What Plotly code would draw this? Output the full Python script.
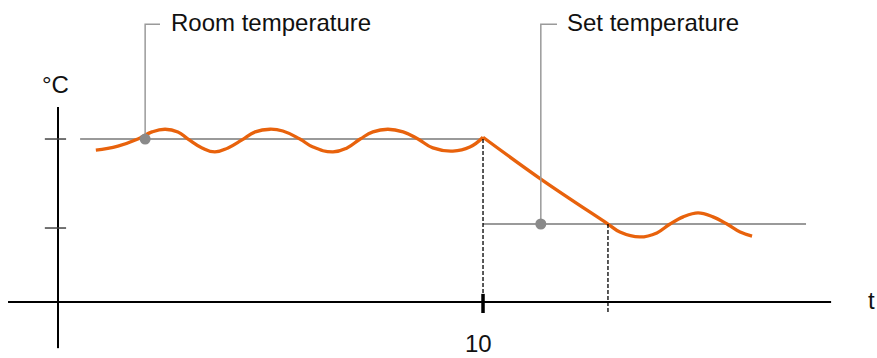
import plotly.graph_objects as go

# --- data (t in time units, T in degC-like units) ---
room_t1 = [0.89, 1.41, 1.88, 2.21, 2.52, 2.82, 3.06, 3.39, 3.69, 4.00, 4.33, 4.64, 4.99,
           5.29, 5.69, 6.00, 6.47, 6.80, 7.11, 7.41, 7.76, 8.12, 8.47, 8.82, 9.29, 9.69, 10.0]
room_T1 = [19.75, 19.84, 20.00, 20.16, 20.22, 20.16, 20.00, 19.80, 19.71, 19.80, 19.98, 20.16, 20.22,
           20.18, 20.00, 19.82, 19.71, 19.80, 20.00, 20.16, 20.22, 20.16, 20.00, 19.80, 19.73, 19.82, 20.04]

room_t2 = [10.0, 11.36, 12.94, 13.22, 13.69, 14.09, 14.40, 14.71, 15.06, 15.41, 15.74, 16.05, 16.33]
room_T2 = [20.04, 19.10, 18.09, 17.91, 17.80, 17.89, 18.09, 18.25, 18.34, 18.25, 18.09, 17.91, 17.82]

set_t = [0.52, 10.0, None, 10.0, 17.6]
set_T = [20.0, 20.0, None, 18.09, 18.09]

switch_t = 10.0          # moment the set temperature is lowered
reach_t = 12.94          # moment the room reaches the new set point
y_ticks = [20.0, 18.0]
x_tick_vals = [10]
x_tick_text = ["10"]

marker_room = (2.05, 20.0)
marker_set = (11.36, 18.09)
labels = ["Room temperature", "Set temperature"]

COLORS = {
    "room": "#E8620C",
    "set": "#9A9A9A",
    "dot": "#8A8A8A",
    "axis": "#000000",
    "tick": "#444444",
    "text": "#111111",
}
FONT = "Arial, Liberation Sans, sans-serif"

X_RANGE = [-1.365, 19.27]
Y_RANGE = [15.079, 23.124]
AXIS_T = 16.34       # level of the time axis
LEADER_T = 22.58     # level of label leader lines

fig = go.Figure()

# set temperature
fig.add_trace(go.Scatter(x=set_t, y=set_T, mode="lines",
                         line=dict(color=COLORS["set"], width=2),
                         hoverinfo="skip", connectgaps=False))

# room temperature
fig.add_trace(go.Scatter(x=room_t1, y=room_T1, mode="lines",
                         line=dict(color=COLORS["room"], width=3.3, shape="spline", smoothing=1.3),
                         hoverinfo="skip"))
fig.add_trace(go.Scatter(x=room_t2, y=room_T2, mode="lines",
                         line=dict(color=COLORS["room"], width=3.3, shape="spline", smoothing=1.1),
                         hoverinfo="skip"))

# leader lines + dots
for (mx, my), hx in zip([marker_room, marker_set], [2.40, 11.74]):
    fig.add_trace(go.Scatter(x=[mx, mx, hx], y=[my, LEADER_T, LEADER_T], mode="lines",
                             line=dict(color=COLORS["set"], width=1.5), hoverinfo="skip"))
fig.add_trace(go.Scatter(x=[marker_room[0], marker_set[0]], y=[marker_room[1], marker_set[1]],
                         mode="markers", marker=dict(color=COLORS["dot"], size=11),
                         hoverinfo="skip"))

shapes = [
    # time axis
    dict(type="line", x0=-1.176, x1=18.19, y0=AXIS_T, y1=AXIS_T,
         line=dict(color=COLORS["axis"], width=2)),
    # temperature axis
    dict(type="line", x0=0, x1=0, y0=15.30, y1=20.72,
         line=dict(color=COLORS["axis"], width=2)),
    # dashed helper lines
    dict(type="line", x0=switch_t, x1=switch_t, y0=20.0, y1=16.52,
         line=dict(color=COLORS["axis"], width=1.3, dash="4px,2px")),
    dict(type="line", x0=reach_t, x1=reach_t, y0=18.09, y1=16.09,
         line=dict(color=COLORS["axis"], width=1.3, dash="4px,2px")),
]
for v in x_tick_vals:
    shapes.append(dict(type="line", x0=v, x1=v, y0=16.52, y1=16.09,
                       line=dict(color=COLORS["axis"], width=3.5)))
for v in y_ticks:
    shapes.append(dict(type="line", x0=-0.31, x1=0.19, y0=v, y1=v,
                       line=dict(color=COLORS["tick"], width=1.5)))

annotations = [
    dict(x=2.62, y=22.61, text=labels[0], xanchor="left", yanchor="middle"),
    dict(x=11.92, y=22.61, text=labels[1], xanchor="left", yanchor="middle"),
    dict(x=-0.07, y=21.22, text="°C", xanchor="center", yanchor="middle"),
    dict(x=19.0, y=16.38, text="t", xanchor="left", yanchor="middle"),
]
for v, s in zip(x_tick_vals, x_tick_text):
    annotations.append(dict(x=v - 0.11, y=Y_RANGE[0], text=s, xanchor="center", yanchor="bottom",
                            borderpad=0))
for a in annotations:
    a.update(xref="x", yref="y", showarrow=False,
             font=dict(family=FONT, size=24, color=COLORS["text"]))

fig.update_layout(
    width=877, height=358,
    margin=dict(l=0, r=0, t=0, b=0),
    paper_bgcolor="white", plot_bgcolor="white",
    showlegend=False,
    xaxis=dict(range=X_RANGE, visible=False, fixedrange=True),
    yaxis=dict(range=Y_RANGE, visible=False, fixedrange=True),
    shapes=shapes,
    annotations=annotations,
    font=dict(family=FONT),
)

fig.write_html("out.html", config={"displayModeBar": False},
               post_script="document.body.style.margin='0';")
